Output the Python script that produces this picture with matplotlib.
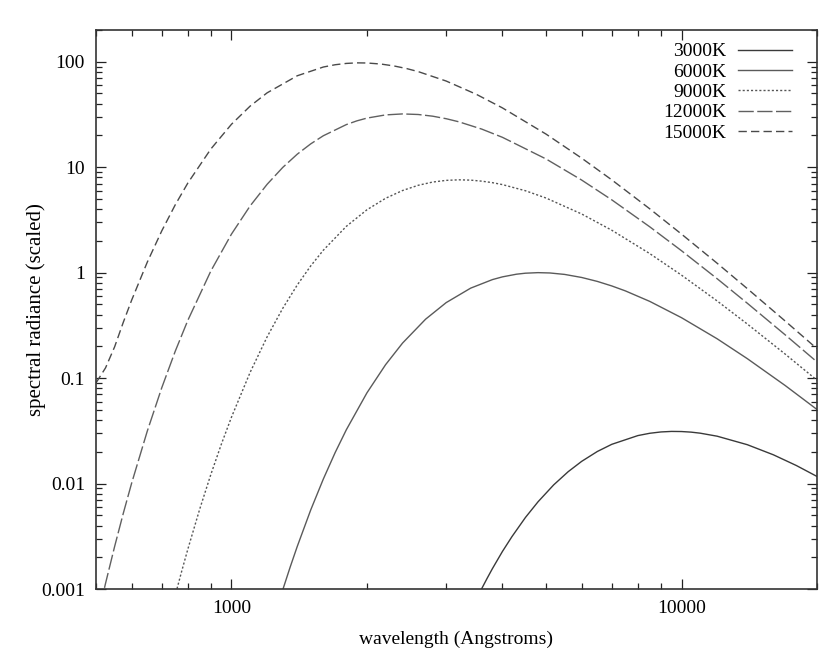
import numpy as np
from matplotlib import pyplot as plt
from matplotlib.ticker import LogLocator, NullFormatter


# wavelength (Angstroms) and scaled spectral radiance
lam_3000 = [3300, 3400, 3500, 3600, 3700, 3800, 4000, 4200, 4500, 4800, 5200, 5600,
            6000, 6500, 7000, 8000, 8500, 9000, 9500, 10000, 10500, 11000, 12000, 14000,
            16000, 18000, 20000]
rad_3000 = [4.66e-4, 6.15e-4, 7.97e-4, 1.013e-3, 1.266e-3, 1.56e-3, 2.27e-3, 3.14e-3,
            4.77e-3, 6.72e-3, 9.72e-3, 0.01296, 0.01624, 0.02014, 0.02356, 0.02851,
            0.02998, 0.03086, 0.03122, 0.03114, 0.03074, 0.03005, 0.02813, 0.02337,
            0.01874, 0.01482, 0.01168]

lam_6000 = [1200, 1250, 1300, 1350, 1400, 1500, 1600, 1700, 1800, 2000, 2200, 2400, 2700,
            3000, 3400, 3800, 4000, 4300, 4500, 4800, 5100, 5500, 6000, 6500, 7000, 7500,
            8500, 10000, 12000, 14000, 17000, 20000]
rad_6000 = [3.15e-4, 5.72e-4, 9.82e-4, 1.61e-3, 2.53e-3, 5.62e-3, 0.01104, 0.0197, 0.0324,
            0.0725, 0.134, 0.215, 0.362, 0.520, 0.713, 0.859, 0.912, 0.967, 0.988, 1.000,
            0.993, 0.962, 0.900, 0.826, 0.748, 0.672, 0.534, 0.374, 0.236, 0.153, 0.0850,
            0.0504]

lam_9000 = [700, 725, 750, 775, 800, 850, 900, 950, 1000, 1100, 1200, 1300, 1400, 1500,
            1600, 1800, 2000, 2200, 2400, 2600, 2800, 3000, 3200, 3400, 3600, 3800, 4000,
            4500, 5000, 6000, 7000, 8500, 10000, 12000, 14000, 17000, 20000]
rad_9000 = [2.68e-4, 4.94e-4, 8.71e-4, 1.47e-3, 2.39e-3, 5.72e-3, 0.01223, 0.02376, 0.0426,
            0.1132, 0.246, 0.459, 0.763, 1.158, 1.632, 2.749, 3.947, 5.071, 6.01, 6.737,
            7.23, 7.499, 7.59, 7.539, 7.37, 7.134, 6.84, 5.98, 5.10, 3.60, 2.524, 1.516,
            0.947, 0.539, 0.326, 0.1688, 0.0955]

lam_12000 = [500, 525, 550, 575, 600, 650, 700, 750, 800, 900, 1000, 1100, 1200, 1300, 1400,
             1500, 1600, 1800, 1900, 2000, 2200, 2400, 2600, 2800, 3000, 3200, 3600, 4000,
             5000, 6000, 7000, 8500, 10000, 12000, 14000, 17000, 20000]
rad_12000 = [4.62e-4, 1.13e-3, 2.53e-3, 5.23e-3, 0.01008, 0.0314, 0.0810, 0.1798, 0.3535,
             1.038, 2.321, 4.289, 6.88, 9.95, 13.28, 16.64, 19.87, 25.36, 27.51, 29.21,
             31.32, 32.0, 31.60, 30.45, 28.82, 26.95, 22.96, 19.20, 11.97, 7.55, 4.90,
             2.721, 1.614, 0.876, 0.513, 0.257, 0.1424]

lam_15000 = [500, 525, 550, 575, 600, 650, 700, 750, 800, 900, 1000, 1100, 1200, 1400, 1600,
             1700, 1800, 1900, 2000, 2150, 2300, 2450, 2600, 3000, 3500, 4000, 5000, 6000,
             7000, 8500, 10000, 12000, 14000, 17000, 20000]
rad_15000 = [0.09, 0.125, 0.198, 0.3386, 0.548, 1.257, 2.489, 4.397, 7.08, 14.89, 25.53,
             37.92, 50.7, 73.6, 89.1, 93.67, 96.4, 97.56, 97.3, 95.06, 91.1, 86.15, 80.6,
             65.6, 49.1, 36.5, 20.6, 12.18, 7.58, 4.03, 2.32, 1.228, 0.706, 0.3474, 0.190]

labels = ["3000K", "6000K", "9000K", "12000K", "15000K"]
x_ticks = [1000, 10000]
y_ticks = [0.001, 0.01, 0.1, 1, 10, 100]
y_ticklabels = ["0.001", "0.01", "0.1", "1", "10", "100"]


def main():
    plt.rcParams['font.family'] = 'Liberation Serif'
    plt.rcParams['font.size'] = 14

    fig = plt.figure(figsize=(8.34, 6.52), dpi=100)
    ax = fig.add_axes([0.1151, 0.0966, 0.8645, 0.8574])

    series = [(lam_3000, rad_3000), (lam_6000, rad_6000), (lam_9000, rad_9000),
              (lam_12000, rad_12000), (lam_15000, rad_15000)]
    styles = ['-', '-', (0, (1.5, 1.5)), (0, (11, 2.5)), (0, (6, 3))]
    colors = ['#3a3a3a', '#5a5a5a', '#555555', '#606060', '#4a4a4a']

    for (lam, rad), lab, ls, c in zip(series, labels, styles, colors):
        ax.plot(lam, rad, ls=ls, color=c, lw=1.0, label=lab)

    ax.set_xscale('log')
    ax.set_yscale('log')
    ax.set_xlim(500, 20000)
    ax.set_ylim(0.001, 200)

    ax.set_xticks(x_ticks)
    ax.set_xticklabels([str(t) for t in x_ticks])
    ax.set_yticks(y_ticks)
    ax.set_yticklabels(y_ticklabels)
    ax.xaxis.set_minor_locator(LogLocator(base=10, subs=np.arange(2, 10)))
    ax.yaxis.set_minor_locator(LogLocator(base=10, subs=np.arange(2, 10)))
    ax.xaxis.set_minor_formatter(NullFormatter())
    ax.yaxis.set_minor_formatter(NullFormatter())

    ax.tick_params(which='both', direction='in', top=True, right=True, width=0.9,
                   labelsize=14, color='#222222')
    ax.tick_params(which='major', length=7, pad=8)
    ax.tick_params(which='minor', length=4)
    for s in ax.spines.values():
        s.set_linewidth(1.2)
        s.set_color('#333333')

    ax.set_xlabel("wavelength (Angstroms)", fontsize=14)
    ax.set_ylabel("spectral radiance (scaled)", fontsize=15)
    ax.xaxis.set_label_coords(0.5, -0.075)
    ax.yaxis.set_label_coords(-0.07, 0.5)

    ax.legend(loc='upper right', bbox_to_anchor=(0.9653, 0.977), markerfirst=False,
              frameon=False, fontsize=14, handlelength=2.75, handletextpad=0.62,
              labelspacing=0.14, borderaxespad=0, borderpad=0)

    plt.savefig("out.png", dpi=100)


if __name__ == '__main__':
    main()
